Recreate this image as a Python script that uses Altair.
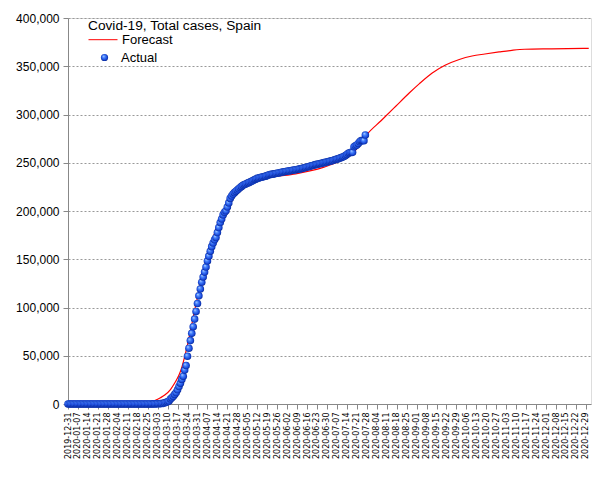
import altair as alt
import pandas as pd

# ---------------- data ----------------
actual_start = "2019-12-31"
actual_values = [
    0, 0, 0, 0, 0, 0, 0, 0, 0, 0, 0, 0, 0, 0, 0, 0,
    0, 0, 0, 0, 0, 0, 0, 0, 0, 0, 0, 0, 0, 0, 0, 0,
    1, 1, 1, 1, 1, 1, 1, 1,
    2, 2, 2, 2, 2, 2, 2, 2, 2, 2, 2, 2, 2, 2, 2, 2,
    6, 13, 15, 32,
    84, 120, 165, 228, 282, 401, 525, 674, 1231, 1695,
    2277, 3146, 5232, 6391, 7988, 9942, 11826, 14769, 18077, 21571,
    25496, 28768, 35136, 39885, 49515, 57786, 65719, 73235, 80110, 87956,
    95923, 104118, 112065, 119199, 126168, 131646, 136675, 141942, 148220, 153222,
    158273, 163027, 166831, 170099, 172541, 177633, 182816, 188068, 191726, 195944,
    198674, 200210, 204178, 208389, 213024,
    215500, 217500, 219000, 220500, 221800, 223000, 224300, 225500, 226600, 227400,
    228000, 228700, 229400, 230100, 230700, 231500, 232300, 233000, 233800, 234200,
    234600, 235000, 235400, 235700, 236100, 236700, 237300, 237800, 238000, 238200,
    238500, 238800, 239100, 239400, 239700, 240100, 240400, 240700, 240900, 241200,
    241500, 241700, 241900, 242200, 242500, 242800, 243000, 243300, 243600, 243900,
    244300, 244700, 245100, 245500, 245900, 246300, 246800, 247200, 247600, 248000,
    248300, 248700, 249000, 249300, 249700, 250100, 250400, 250800, 251200, 251500,
    251900, 252300, 252800, 253300, 253700, 254200, 254800, 255300, 255900, 256500,
    257500, 258600, 259800, 260400, 260800, 260800, 266600, 267500, 268400, 270000,
    271800, 272900, 272900, 272900, 278800,
]
actual_dates = pd.date_range(actual_start, periods=len(actual_values), freq="D").strftime("%Y-%m-%d").tolist()

forecast_dates = [
    "2019-12-31", "2020-02-14", "2020-02-19", "2020-02-24", "2020-02-27", "2020-03-01",
    "2020-03-05", "2020-03-08", "2020-03-12", "2020-03-15", "2020-03-18", "2020-03-20",
    "2020-03-23", "2020-03-26", "2020-03-29", "2020-04-01", "2020-04-04", "2020-04-07",
    "2020-04-10", "2020-04-13", "2020-04-16", "2020-04-19", "2020-04-22", "2020-04-25",
    "2020-04-29", "2020-05-03", "2020-05-09", "2020-05-17", "2020-05-29", "2020-06-08",
    "2020-06-18", "2020-06-28", "2020-07-08", "2020-07-18", "2020-07-23", "2020-07-28",
    "2020-08-07", "2020-08-17", "2020-08-27", "2020-09-03", "2020-09-12", "2020-09-21",
    "2020-10-01", "2020-10-10", "2020-10-19", "2020-10-29", "2020-11-07", "2020-11-16",
    "2020-12-05", "2020-12-31",
]
forecast_values = [
    0, 0, 200, 800, 1800, 3500,
    6500, 9300, 15000, 21700, 30000, 38000,
    55000, 75000, 97000, 117000, 136000, 153000,
    168000, 181000, 192000, 202000, 210500, 218000,
    224500, 229000, 232000, 234500, 236500, 238500,
    241500, 245500, 251000, 260000, 268000, 279000,
    293500, 308000, 322500, 332000, 343000, 351000,
    357000, 360600, 362700, 364800, 366500, 367600,
    368000, 368500,
]

tick_dates = pd.date_range("2019-12-31", "2020-12-29", freq="7D")
y_ticks = [0, 50000, 100000, 150000, 200000, 250000, 300000, 350000, 400000]

actual_df = pd.DataFrame({"date": actual_dates, "value": actual_values, "series": "Actual"})
forecast_df = pd.DataFrame({"date": forecast_dates, "value": forecast_values, "series": "Forecast"})

# ---------------- styling ----------------
NAVY = "#000066"
x_ticks = [alt.DateTime(year=d.year, month=d.month, date=d.day, utc=True) for d in tick_dates]

x_axis = alt.Axis(
    values=x_ticks,
    labelExpr="utcFormat(datum.value, '%Y-%m-%d')",
    labelAngle=-90,
    labelFont="DejaVu Sans",
    labelFontSize=8,
    labelColor="#000000",
    labelPadding=3,
    labelOverlap=False,
    labelFlush=False,
    labelBound=False,
    tickSize=5,
    grid=False,
    title=None,
)
x_scale = alt.Scale(
    type="utc",
    domain=[
        alt.DateTime(year=2019, month=12, date=31, utc=True),
        alt.DateTime(year=2021, month=1, date=1, hours=14, utc=True),
    ],
)
y_axis = alt.Axis(
    values=y_ticks,
    format=",d",
    labelFont="Liberation Sans",
    labelFontSize=12,
    labelColor="#000000",
    labelPadding=4,
    tickSize=5,
    grid=True,
    gridColor="#999999",
    gridDash=[2, 2],
    gridWidth=1,
    title=None,
)
y_scale = alt.Scale(domain=[0, 400000], nice=False)

sphere = {
    "gradient": "radial",
    "x1": 0.35, "y1": 0.3, "r1": 0,
    "x2": 0.5, "y2": 0.5, "r2": 0.55,
    "stops": [
        {"offset": 0, "color": "#d0e4ff"},
        {"offset": 0.3, "color": "#4f8cff"},
        {"offset": 0.75, "color": "#1745d8"},
        {"offset": 1, "color": "#001c7a"},
    ],
}

forecast = alt.Chart(forecast_df).mark_line(
    strokeWidth=1.2, interpolate="monotone", color="#ff0000"
).encode(
    x=alt.X("date:T", scale=x_scale, axis=x_axis),
    y=alt.Y("value:Q", scale=y_scale, axis=y_axis),
    color=alt.Color(
        "series:N",
        scale=alt.Scale(domain=["Forecast"], range=["#ff0000"]),
        legend=alt.Legend(
            title="Covid-19, Total cases, Spain",
            orient="none",
            legendX=20,
            legendY=1,
            padding=0,
            titleFont="Liberation Sans",
            titleFontSize=13.7,
            titleFontWeight="normal",
            titleColor="#000000",
            titlePadding=-8,
            labelFont="Liberation Sans",
            labelFontSize=13,
            labelColor="#000000",
            labelOffset=4,
            symbolType="stroke",
            symbolSize=841,
            symbolStrokeWidth=1,
        ),
    ),
)

actual = alt.Chart(actual_df).mark_point(
    filled=True, size=58, fill=sphere, opacity=1, strokeWidth=0
).encode(
    x=alt.X("date:T", scale=x_scale, axis=x_axis),
    y=alt.Y("value:Q", scale=y_scale, axis=y_axis),
    shape=alt.Shape(
        "series:N",
        scale=alt.Scale(domain=["Actual"], range=["circle"]),
        legend=alt.Legend(
            title=None,
            orient="none",
            legendX=30,
            legendY=33,
            padding=0,
            labelFont="Liberation Sans",
            labelFontSize=13,
            labelColor="#000000",
            labelOffset=10,
            symbolSize=52,
            symbolStrokeWidth=0,
        ),
    ),
)

chart = (
    alt.layer(forecast, actual)
    .properties(
        width=523,
        height=386,
        padding={"left": 60, "top": 10, "right": 6, "bottom": 70},
        autosize=alt.AutoSizeParams(type="none"),
    )
    .configure_view(stroke=None)
    .configure_axis(domainColor=NAVY, tickColor=NAVY, domainWidth=1, tickWidth=1)
    .configure(background="#ffffff")
)

chart.save("out.html", embed_options={"renderer": "svg", "actions": False})
